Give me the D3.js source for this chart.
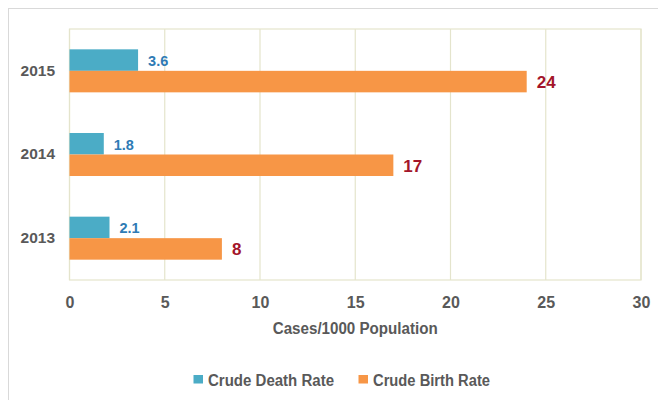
<!DOCTYPE html>
<html><head><meta charset="utf-8">
<script src="https://cdn.jsdelivr.net/npm/d3@7"></script>
<style>body{margin:0;background:#fff}svg{display:block}</style>
</head><body><svg id="c" width="658" height="400"></svg>
<script>
const years = ["2015", "2014", "2013"];
const deathRate = [3.6, 1.8, 2.1];
const birthRate = [24, 17, 8];
const seriesNames = ["Crude Death Rate", "Crude Birth Rate"];
const seriesColors = ["#4bacc6", "#f79646"];
const labelColors = ["#2f7bb5", "#a3152a"];
const xTicks = [0, 5, 10, 15, 20, 25, 30];
const axisTitle = "Cases/1000 Population";

const FONT = "'Liberation Sans', Arial, sans-serif";
const svg = d3.select("#c");
const L = 69.5, R = 641, T = 29, B = 280;

// outer frame
svg.append("rect").attr("x", 8.5).attr("y", 8.5).attr("width", 700).attr("height", 500)
  .attr("fill", "#fff").attr("stroke", "#d9d9d9");

const x = d3.scaleLinear().domain([0, 30]).range([L, R]);
const y = d3.scaleBand().domain(years).range([T, B]).paddingInner(0.486).paddingOuter(0.243);
const ys = d3.scaleBand().domain(seriesNames).range([0, y.bandwidth()]);

// plot area
svg.append("rect").attr("x", L).attr("y", T).attr("width", R - L).attr("height", B - T)
  .attr("fill", "#fff").attr("stroke", "#e4e4cc").attr("stroke-width", 1.2);
svg.append("g").selectAll("line").data(xTicks).join("line")
  .attr("x1", d => x(d)).attr("x2", d => x(d)).attr("y1", T).attr("y2", B)
  .attr("stroke", "#e4e4cc").attr("stroke-width", 1.2);

const rows = years.map((yr, i) => ({ yr, vals: [deathRate[i], birthRate[i]] }));
const g = svg.append("g").selectAll("g").data(rows).join("g")
  .attr("transform", d => `translate(0,${y(d.yr)})`);
g.selectAll("rect").data(d => d.vals.map((v, k) => ({ v, k }))).join("rect")
  .attr("x", x(0)).attr("y", d => ys(seriesNames[d.k]))
  .attr("width", d => x(d.v) - x(0)).attr("height", ys.bandwidth())
  .attr("fill", d => seriesColors[d.k]);
g.selectAll("text").data(d => d.vals.map((v, k) => ({ v, k }))).join("text")
  .attr("x", d => x(d.v) + 10).attr("y", d => ys(seriesNames[d.k]) + ys.bandwidth() / 2 + (d.k === 0 ? 1 : 0.5))
  .attr("dy", "0.35em")
  .attr("font-family", FONT).attr("font-weight", "bold")
  .attr("font-size", d => d.k === 0 ? 14.5 : 17)
  .attr("fill", d => labelColors[d.k])
  .text(d => d.v);

// axes
const xa = svg.append("g").attr("transform", `translate(0,${B})`)
  .call(d3.axisBottom(x).tickValues(xTicks).tickSize(0).tickPadding(17));
xa.select(".domain").remove();
xa.selectAll("text").attr("font-family", FONT).attr("font-weight", "bold")
  .attr("font-size", 16).attr("fill", "#595959");

const ya = svg.append("g").attr("transform", `translate(${L},0)`)
  .call(d3.axisLeft(y).tickSize(0).tickPadding(14.5));
ya.select(".domain").remove();
ya.selectAll("text").attr("font-family", FONT).attr("font-weight", "bold")
  .attr("font-size", 15.5).attr("fill", "#595959");

svg.append("text").attr("x", (L + R) / 2).attr("y", 333.5).attr("text-anchor", "middle")
  .attr("font-family", FONT).attr("font-weight", "bold").attr("font-size", 16)
  .attr("textLength", 165).attr("lengthAdjust", "spacingAndGlyphs")
  .attr("fill", "#595959").text(axisTitle);

// legend
const legX = [193.5, 358.5];
const legW = [126, 117];
const lg = svg.append("g").selectAll("g").data(seriesNames).join("g")
  .attr("transform", (d, i) => `translate(${legX[i]},375)`);
lg.append("rect").attr("width", 9.5).attr("height", 8.5).attr("fill", (d, i) => seriesColors[i]);
lg.append("text").attr("x", 14.5).attr("y", 10.5)
  .attr("font-family", FONT).attr("font-weight", "bold").attr("font-size", 16)
  .attr("textLength", (d, i) => legW[i]).attr("lengthAdjust", "spacingAndGlyphs")
  .attr("fill", "#595959").text(d => d);
</script></body></html>
